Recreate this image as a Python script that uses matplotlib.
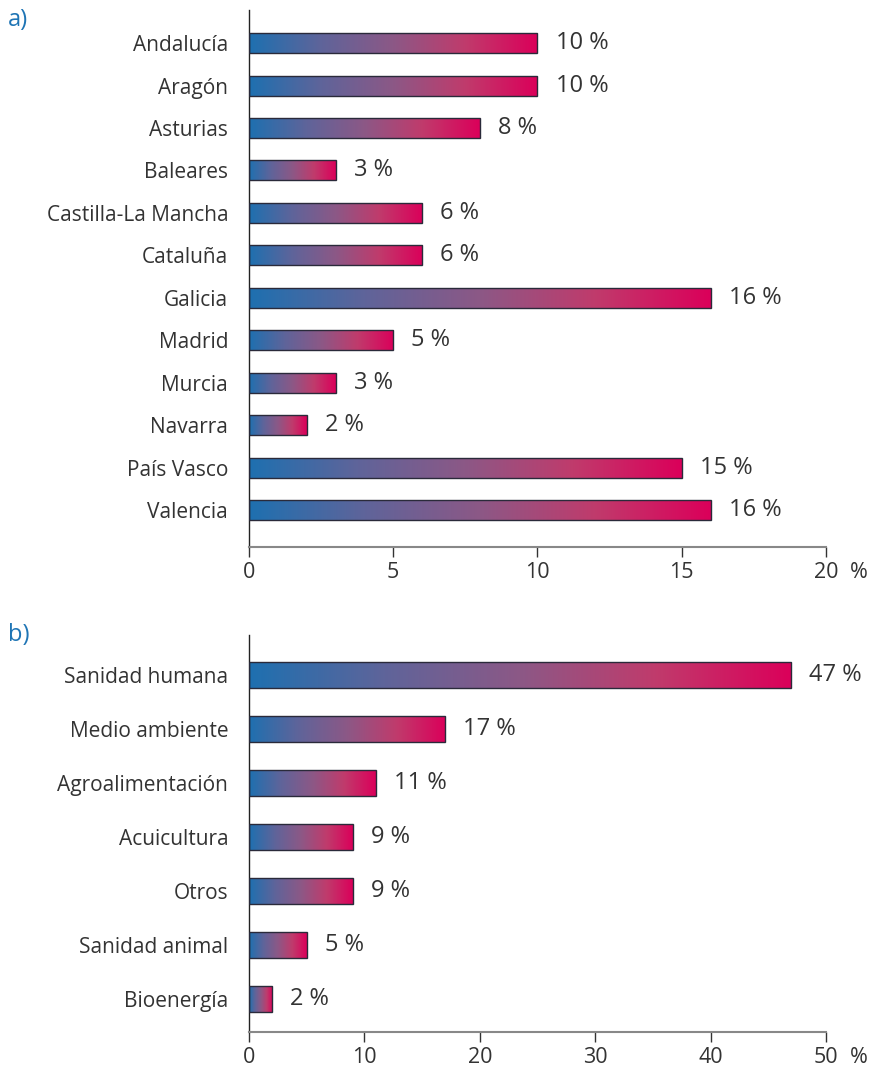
import matplotlib
matplotlib.use("Agg")
import matplotlib.pyplot as plt
import numpy as np
from matplotlib.colors import LinearSegmentedColormap
from matplotlib.patches import Rectangle

plt.rcParams['font.family'] = ['Open Sans', 'DejaVu Sans']

regions = ["Andalucía", "Aragón", "Asturias", "Baleares", "Castilla-La Mancha",
           "Cataluña", "Galicia", "Madrid", "Murcia", "Navarra", "País Vasco", "Valencia"]
region_values = [10, 10, 8, 3, 6, 6, 16, 5, 3, 2, 15, 16]
region_ticks = [0, 5, 10, 15, 20]

sectors = ["Sanidad humana", "Medio ambiente", "Agroalimentación", "Acuicultura",
           "Otros", "Sanidad animal", "Bioenergía"]
sector_values = [47, 17, 11, 9, 9, 5, 2]
sector_ticks = [0, 10, 20, 30, 40, 50]

cmap = LinearSegmentedColormap.from_list(
    "grad", ['#1e70b0', '#5f649a', '#8c5886', '#c03b6c', '#db005a'])
grad = np.linspace(0, 1, 256).reshape(1, -1)

TEXT = '#333333'
FS_CAT = 15
FS_VAL = 17
FS_TICK = 15.5

fig = plt.figure(figsize=(8.7, 10.73), dpi=100)


def draw(ax, cats, vals, ticks, ylim, h):
    n = len(cats)
    for i, v in enumerate(vals):
        ax.imshow(grad, cmap=cmap, aspect='auto', interpolation='bilinear',
                  extent=[0, v, i + h / 2, i - h / 2], zorder=2)
        ax.add_patch(Rectangle((0, i - h / 2), v, h, fill=False,
                               edgecolor='#2a2a3a', lw=1.0, zorder=3))
        ax.annotate(f"{v} %", xy=(v, i), xytext=(13, 0), textcoords='offset points',
                    va='center', ha='left', fontsize=FS_VAL, color=TEXT)
    ax.set_xlim(0, ticks[-1])
    ax.set_ylim(*ylim)
    ax.set_yticks(range(n))
    ax.set_yticklabels(cats, fontsize=FS_CAT, color=TEXT)
    ax.tick_params(axis='y', length=0, pad=15)
    ax.set_xticks(ticks)
    ax.set_xticklabels([str(t) for t in ticks], fontsize=FS_TICK, color=TEXT)
    ax.tick_params(axis='x', length=7, width=1, color='#333333', pad=4)
    for s in ['top', 'right']:
        ax.spines[s].set_visible(False)
    ax.spines['left'].set_color('#222222')
    ax.spines['left'].set_linewidth(1)
    ax.spines['bottom'].set_color('#888888')
    ax.spines['bottom'].set_linewidth(1.5)


ax1 = fig.add_axes([249 / 870, 1 - 547 / 1073, 577 / 870, 537 / 1073])
draw(ax1, regions, region_values, region_ticks, (11.87, -0.78), 0.47)
ax2 = fig.add_axes([249 / 870, 1 - 1032 / 1073, 577 / 870, 397 / 1073])
draw(ax2, sectors, sector_values, sector_ticks, (6.62, -0.74), 0.48)

# "%" unit after the last tick label
fig.canvas.draw()
for ax in (ax1, ax2):
    lab = ax.get_xticklabels()[-1]
    bb = lab.get_window_extent()
    x = bb.x1 + 12
    yc = (bb.y0 + bb.y1) / 2
    fig.text(x / fig.dpi / fig.get_figwidth(), yc / fig.dpi / fig.get_figheight(),
             "%", fontsize=FS_TICK, color=TEXT, ha='left', va='center')

fig.text(8 / 870, 1 - 20 / 1073, "a)", fontsize=17, color='#1f75b5', ha='left', va='center')
fig.text(8 / 870, 1 - 635 / 1073, "b)", fontsize=17, color='#1f75b5', ha='left', va='center')

fig.savefig("out.png", dpi=100)
